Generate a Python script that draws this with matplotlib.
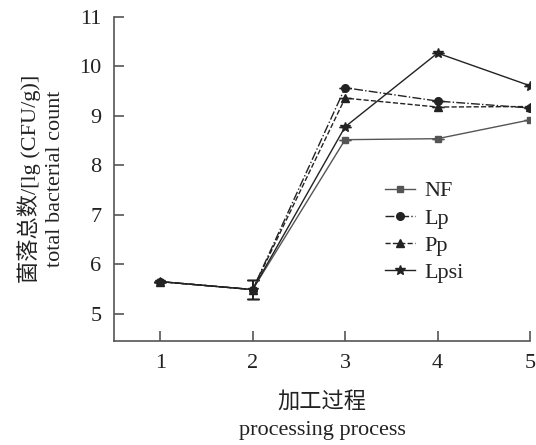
import matplotlib
matplotlib.use("Agg")
import matplotlib.pyplot as plt
from matplotlib.lines import Line2D

plt.rcParams["font.family"] = ["Liberation Serif", "Noto Sans CJK SC"]

# Processing steps and log counts per treatment
steps = [1, 2, 3, 4, 5]
nf = [5.65, 5.49, 8.52, 8.54, 8.92]
lp = [5.65, 5.49, 9.57, 9.30, 9.16]
pp = [5.65, 5.49, 9.36, 9.18, 9.19]
lpsi = [5.65, 5.49, 8.78, 10.27, 9.61]
err = [0.0, 0.2, 0.0, 0.0, 0.0]

fig = plt.figure(figsize=(5.36, 4.45), dpi=100)
ax = fig.add_axes([114 / 536, 1 - 341 / 445, (530 - 114) / 536, (341 - 17) / 445])

styles = [
    ("NF", nf, "#555555", "s", 5, "-"),
    ("Lp", lp, "#222222", "o", 5.5, "-."),
    ("Pp", pp, "#222222", "^", 5.5, "--"),
    ("Lpsi", lpsi, "#222222", "*", 7.5, "-"),
]
handles = []
for name, vals, col, mk, ms, ls in styles:
    ax.errorbar(steps, vals, yerr=err, color=col, marker=mk, markersize=ms,
                linestyle=ls, linewidth=1.0, capsize=4, elinewidth=1.2)
    handles.append(Line2D([], [], color=col, marker=mk, markersize=ms,
                          linestyle=ls, linewidth=1.0, label=name))

ax.set_xlim(0.5, 5)
ax.set_ylim(4.45, 11)
ax.set_xticks(steps)
ax.set_yticks([5, 6, 7, 8, 9, 10, 11])

for side in ["top", "right"]:
    ax.spines[side].set_visible(False)
for side in ["left", "bottom"]:
    ax.spines[side].set_color("#555555")
    ax.spines[side].set_linewidth(1.2)
ax.tick_params(direction="in", length=7, width=1.2, color="#555555",
               labelsize=16, pad=9, labelcolor="#222222")

ax.set_xlabel("加工过程\nprocessing process", fontsize=16, color="#222222",
              labelpad=14, linespacing=1.6)
ax.set_ylabel("菌落总数/[lg (CFU/g)]\ntotal bacterial count", fontsize=16,
              color="#222222", labelpad=10, linespacing=1.4)

leg = ax.legend(handles=handles, loc="upper left", bbox_to_anchor=(0.651, 0.494),
                frameon=False, fontsize=16, handlelength=1.35, handletextpad=0.45,
                labelspacing=0.3, borderaxespad=0, borderpad=0)
for t in leg.get_texts():
    t.set_color("#222222")

fig.savefig("out.png", dpi=100)
